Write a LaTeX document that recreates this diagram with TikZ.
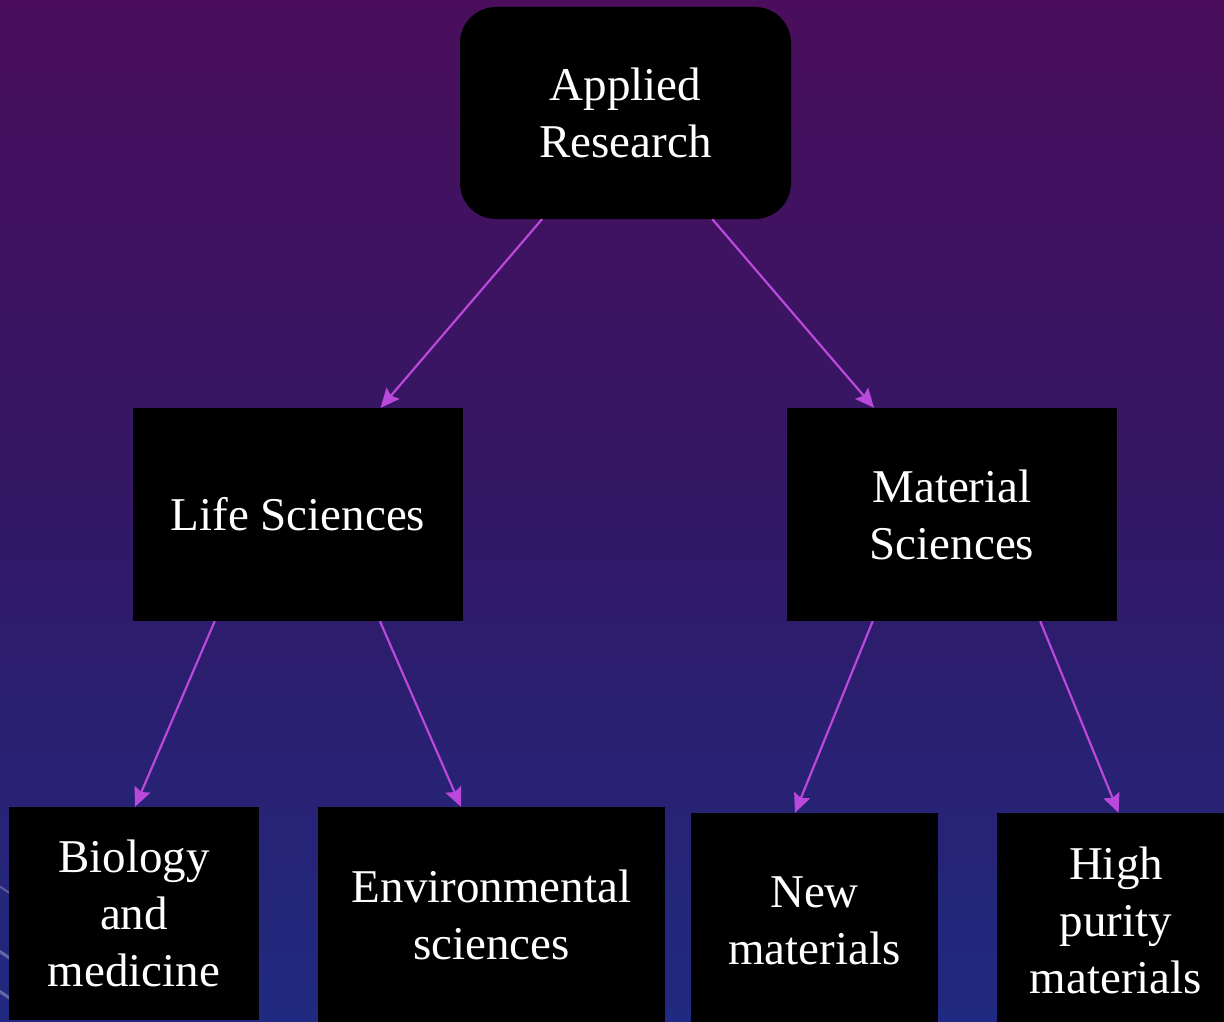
\documentclass[tikz,border=0pt]{standalone}
\usepackage{fontspec}
\setmainfont{Liberation Serif}
\usetikzlibrary{arrows.meta,calc}

\definecolor{bgtop}{RGB}{74,14,92}
\definecolor{bgmid}{RGB}{50,24,102}
\definecolor{bgbot}{RGB}{32,42,128}
\definecolor{linkcol}{RGB}{186,72,218}

\tikzset{
  box/.style={fill=black, draw=none, text=white, align=center,
    inner sep=0pt, font=\fontsize{47}{57}\selectfont},
  roundbox/.style={box, rounded corners=36pt},
  link/.style={draw=linkcol, line width=2.2pt,
    -{Stealth[length=19pt,width=17pt,inset=3pt]}},
}

\begin{document}
\begin{tikzpicture}[x=1pt,y=-1pt]
  % page frame and background gradient
  \useasboundingbox (0,0) rectangle (1224,1022);
  \shade[top color=bgtop, bottom color=bgmid, shading angle=0]
    (0,0) rectangle (1224,511);
  \shade[top color=bgmid, bottom color=bgbot]
    (0,511) rectangle (1224,1022);
  % faint streaks at the lower left
  \draw[white, opacity=0.25, line width=2pt] (-10,880) -- (20,900);
  \draw[white, opacity=0.3, line width=3pt] (-10,945) -- (20,965);
  \draw[white, opacity=0.3, line width=3pt] (-10,985) -- (20,1005);

  % boxes
  \node[roundbox, minimum width=331pt, minimum height=212pt] (ar) at (625.5,113)
    {Applied\\Research};
  \node[box, minimum width=330pt, minimum height=213pt] (ls) at (298,514.5)
    {Life Sciences};
  \node[box, minimum width=330pt, minimum height=213pt] (ms) at (952,514.5)
    {Material\\Sciences};
  \node[box, minimum width=250pt, minimum height=213pt] (bm) at (134,913.5)
    {Biology\\and\\medicine};
  \node[box, minimum width=347pt, minimum height=215pt] (es) at (491.5,914.5)
    {Environmental\\sciences};
  \node[box, minimum width=247pt, minimum height=215pt] (nm) at (814.5,920.5)
    {New\\materials};
  \node[box, minimum width=238pt, minimum height=215pt] (hp) at (1116,920.5)
    {High\\purity\\materials};

  % connectors
  \draw[link] ($(ar.south west)!0.248!(ar.south east)$)
           -- ($(ls.north west)!0.75!(ls.north east)$);
  \draw[link] ($(ar.south west)!0.762!(ar.south east)$)
           -- ($(ms.north west)!0.264!(ms.north east)$);
  \draw[link] ($(ls.south west)!0.248!(ls.south east)$)
           -- ($(bm.north west)!0.504!(bm.north east)$);
  \draw[link] ($(ls.south west)!0.748!(ls.south east)$)
           -- ($(es.north west)!0.412!(es.north east)$);
  \draw[link] ($(ms.south west)!0.26!(ms.south east)$)
           -- ($(nm.north west)!0.421!(nm.north east)$);
  \draw[link] ($(ms.south west)!0.767!(ms.south east)$)
           -- ($(hp.north west)!0.511!(hp.north east)$);
\end{tikzpicture}
\end{document}
